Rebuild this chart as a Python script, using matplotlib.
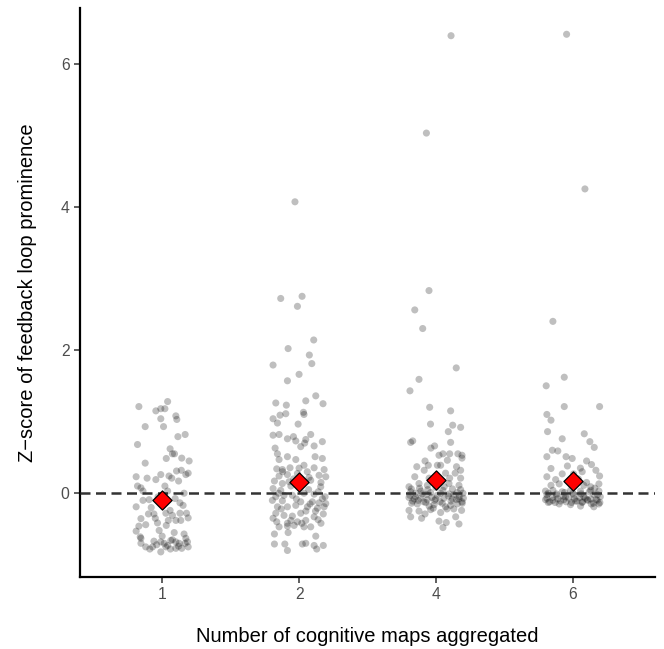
import numpy as np
import matplotlib
matplotlib.use("Agg")
import matplotlib.pyplot as plt

plt.rcParams['font.family'] = ['Liberation Sans', 'DejaVu Sans']

# categories on the x axis
groups = ["1", "2", "4", "6"]

# jitter offset (category units) and z-score of every point
g1_dx = [-0.17, 0.04, -0.046, -0.01, 0.02, -0.01, 0.10, 0.107, -0.124, 0.01, 0.115, 0.168, -0.18, 0.058,
         0.075, 0.09, 0.03, 0.143, 0.197, -0.124, -0.01, 0.105, 0.14, 0.173, -0.19, -0.046, 0.05, 0.07,
         0.02, -0.18, -0.155, -0.14, 0.04, -0.14, -0.095, 0.095, 0.13, -0.19, 0.153, -0.10, -0.06, 0.027,
         0.058, 0.075, 0.13, 0.178, -0.155, -0.034, 0.045, 0.10, 0.136, 0.19, -0.17, -0.12, -0.19, -0.022,
         0.088, -0.16, -0.155, 0.075, 0.16, 0.173, -0.06, -0.01, 0.015, 0.04, 0.063, 0.10, 0.124, 0.168,
         0.185, -0.07, -0.01, 0.027, 0.10, 0.143, -0.155, -0.12, -0.09, 0.06, 0.12, 0.19, -0.04, 0.0,
         -0.08, -0.03, 0.16, -0.11, 0.12, 0.19, -0.05, 0.03]
g1_y = [1.21, 1.28, 1.15, 1.18, 1.18, 1.04, 1.08, 1.03, 0.93, 0.93, 0.79, 0.82, 0.68, 0.62,
        0.55, 0.55, 0.485, 0.49, 0.45, 0.42, 0.26, 0.31, 0.32, 0.26, 0.23, 0.19, 0.24, 0.21,
        0.10, 0.10, 0.075, 0.03, 0.03, -0.10, -0.09, -0.075, -0.135, -0.19, -0.17, -0.29, -0.29, -0.28,
        -0.24, -0.31, -0.28, -0.28, -0.355, -0.415, -0.38, -0.38, -0.38, -0.345, -0.46, -0.44, -0.53, -0.52,
        -0.55, -0.61, -0.63, -0.65, -0.57, -0.63, -0.67, -0.68, -0.70, -0.73, -0.66, -0.68, -0.70, -0.70,
        -0.68, -0.75, -0.82, -0.75, -0.77, -0.77, -0.70, -0.75, -0.78, -0.78, -0.74, -0.75, -0.72, -0.60,
        -0.20, -0.05, 0.0, 0.21, 0.17, 0.28, -0.35, -0.45]

g2_dx = [-0.03, -0.134, 0.022, -0.012, 0.107, -0.08, 0.075, -0.19, 0.093,
         0.0, -0.085, 0.122, 0.049, 0.175, -0.17, -0.093, -0.097, -0.139, -0.19, 0.032, 0.036, -0.158,
         -0.007, -0.19, -0.146, -0.085, -0.041, 0.085, 0.049, -0.024, 0.041, 0.17, -0.175, 0.012, 0.11,
         -0.158, -0.146, -0.085, -0.024, 0.117, 0.17, -0.163, -0.122, -0.066, 0.036, 0.11, 0.183, -0.146,
         -0.085, -0.012, 0.073, 0.146, 0.195, -0.18, -0.122, -0.073, 0.085, -0.19, -0.134, 0.158, -0.17,
         -0.11, -0.049, 0.036, 0.11, 0.17, -0.195, -0.122, 0.012, 0.097, 0.146, 0.195, -0.158, -0.085,
         -0.024, 0.061, 0.134, 0.183, -0.17, -0.11, -0.049, 0.012, 0.11, 0.177, -0.163, -0.085, -0.012,
         0.049, 0.139, -0.146, -0.085, -0.036, 0.036, 0.085, -0.18, 0.122, -0.18, -0.104, -0.085, 0.024,
         0.049, 0.11, 0.129, 0.177, -0.15, -0.06, 0.07, 0.14, -0.13, -0.02, 0.05, 0.12, 0.19, -0.19,
         -0.06, 0.02, 0.16, -0.12, 0.0, 0.06, 0.16, -0.08, 0.08, -0.04]
g2_y = [4.07, 2.72, 2.75, 2.61, 2.14, 2.02, 1.93, 1.79, 1.81,
        1.66, 1.57, 1.36, 1.29, 1.25, 1.26, 1.23, 1.11, 1.09, 1.04, 1.13, 1.10, 0.98,
        0.965, 0.81, 0.82, 0.76, 0.79, 0.82, 0.75, 0.73, 0.70, 0.72, 0.63, 0.65, 0.66,
        0.55, 0.47, 0.51, 0.47, 0.51, 0.485, 0.34, 0.33, 0.355, 0.39, 0.355, 0.33, 0.24,
        0.26, 0.275, 0.22, 0.25, 0.23, 0.17, 0.135, 0.16, 0.18, 0.065, 0.04, 0.09, -0.05,
        -0.03, -0.03, 0.0, -0.014, -0.075, -0.10, -0.107, -0.12, -0.12, -0.135, -0.145, -0.19, -0.19,
        -0.17, -0.19, -0.21, -0.19, -0.28, -0.31, -0.32, -0.28, -0.33, -0.29, -0.40, -0.42, -0.40,
        -0.38, -0.37, -0.47, -0.46, -0.45, -0.47, -0.47, -0.57, -0.60, -0.71, -0.71, -0.80, -0.71,
        -0.70, -0.73, -0.78, -0.73, 0.0, 0.10, 0.05, 0.02, -0.22, -0.08, -0.25, -0.25, -0.05, -0.35,
        -0.38, -0.42, -0.42, 0.30, 0.35, 0.30, 0.15, -0.55, -0.15, 0.20]

g4_dx = [0.11, -0.07, -0.051, -0.155, -0.097, 0.148, -0.124, -0.19, -0.046, 0.107, -0.04, 0.122,
         0.18, 0.09, -0.185, -0.17, 0.107, -0.037, -0.01, 0.022, 0.051, 0.10, 0.16, 0.19, -0.08,
         0.083, 0.19, -0.14, -0.056, 0.01, 0.034, 0.15, -0.086, 0.07, 0.14, 0.18, -0.155, -0.05,
         0.10, 0.18, -0.197, -0.124, -0.063, 0.095, 0.168,
         -0.185, -0.148, -0.10, -0.039, 0.034, 0.095, 0.156, 0.197,
         -0.197, -0.16, -0.112, -0.063, -0.002, 0.058, 0.12, 0.168, 0.2,
         -0.178, -0.136, -0.075, -0.014, 0.046, 0.107, 0.156, 0.192,
         -0.197, -0.124, -0.039, 0.034, 0.13, 0.187,
         -0.185, -0.105, 0.022, 0.075, 0.144, 0.168, 0.051,
         -0.19, -0.15, -0.11, -0.07, -0.03, 0.01, 0.05, 0.09, 0.13, 0.17,
         -0.17, -0.13, -0.09, -0.05, -0.01, 0.03, 0.07, 0.11, 0.15, 0.19,
         -0.18, -0.12, -0.06, 0.0, 0.06, 0.12, 0.18, -0.02, 0.08, -0.08]
g4_y = [6.39, 5.03, 2.83, 2.56, 2.30, 1.75, 1.59, 1.43, 1.20, 1.15, 0.965, 0.95,
        0.92, 0.86, 0.71, 0.73, 0.71, 0.63, 0.66, 0.53, 0.55, 0.55, 0.55, 0.53, 0.45,
        0.46, 0.49, 0.37, 0.39, 0.39, 0.39, 0.37, 0.32, 0.28, 0.28, 0.32, 0.23, 0.21,
        0.21, 0.21, 0.09, 0.135, 0.11, 0.135, 0.11,
        0.02, 0.0, -0.01, 0.01, 0.0, -0.01, 0.01, 0.0,
        -0.06, -0.08, -0.07, -0.09, -0.08, -0.07, -0.08, -0.08, -0.07,
        -0.14, -0.15, -0.13, -0.16, -0.14, -0.17, -0.15, -0.14,
        -0.24, -0.25, -0.23, -0.27, -0.22, -0.24,
        -0.33, -0.35, -0.39, -0.41, -0.33, -0.43, -0.48,
        -0.03, -0.05, 0.03, -0.02, -0.06, -0.03, 0.04, -0.04, -0.02, -0.05,
        -0.11, -0.10, -0.12, -0.18, -0.10, -0.12, -0.19, -0.11, -0.09, -0.12,
        0.06, 0.07, 0.05, 0.08, 0.09, 0.06, 0.05, -0.21, -0.22, -0.29]

g6_dx = [-0.046, 0.088, -0.146, -0.063, -0.195, -0.063, 0.195, -0.19, -0.16, -0.185, -0.078, 0.083,
         0.124, 0.156, -0.15, -0.11, -0.19, -0.05, -0.005, 0.10, -0.16, -0.04, 0.055, 0.136, 0.168,
         -0.19, -0.126, -0.078, 0.005, 0.068, 0.195, -0.16, -0.10, 0.08, 0.13, 0.19,
         -0.2, -0.146, -0.078, -0.017, 0.056, 0.13, 0.19,
         -0.19, -0.12, -0.054, 0.007, 0.08, 0.153, 0.2,
         -0.2, -0.146, -0.066, 0.02, 0.105, 0.178,
         -0.18, -0.10, -0.017, 0.068, 0.134, 0.197,
         0.056, 0.153,
         -0.19, -0.15, -0.11, -0.07, -0.03, 0.01, 0.05, 0.09, 0.13, 0.17,
         -0.17, -0.13, -0.09, -0.05, -0.01, 0.03, 0.07, 0.11, 0.15, 0.19,
         -0.18, -0.12, -0.06, 0.0, 0.06, 0.12, 0.18, 0.10, 0.16, 0.04]
g6_y = [6.41, 4.25, 2.40, 1.62, 1.50, 1.21, 1.21, 1.10, 1.02, 0.86, 0.76, 0.83,
        0.72, 0.64, 0.60, 0.59, 0.51, 0.51, 0.485, 0.45, 0.345, 0.38, 0.35, 0.40, 0.32,
        0.23, 0.19, 0.27, 0.27, 0.30, 0.24, 0.11, 0.13, 0.11, 0.09, 0.13,
        0.03, 0.04, 0.02, 0.04, 0.03, 0.04, 0.03,
        -0.02, -0.03, -0.05, -0.02, -0.05, -0.02, -0.05,
        -0.09, -0.10, -0.09, -0.11, -0.09, -0.10,
        -0.13, -0.15, -0.16, -0.13, -0.15, -0.13,
        -0.18, -0.19,
        -0.07, -0.06, -0.08, -0.04, -0.07, -0.08, -0.06, -0.07, -0.08, -0.09,
        -0.12, -0.13, -0.11, -0.12, -0.13, -0.11, -0.12, -0.10, -0.14, -0.15,
        0.0, -0.01, 0.01, 0.0, -0.01, 0.02, -0.02, 0.15, 0.07, 0.20]

# group means (red diamonds)
means = [-0.10, 0.15, 0.19, 0.17]

fig = plt.figure(figsize=(6.64, 6.49), dpi=100)
ax = fig.add_axes([0.1205, 0.111, 0.866, 0.877])

all_dx = [g1_dx, g2_dx, g4_dx, g6_dx]
all_y = [g1_y, g2_y, g4_y, g6_y]
for i in range(len(groups)):
    x = i + 1 + np.array(all_dx[i])
    ax.scatter(x, all_y[i], s=26, color='black', alpha=0.25, edgecolors='none', zorder=2)

ax.axhline(0, color='#333333', linestyle=(0, (4, 2.2)), linewidth=1.8, zorder=3)

ax.scatter(np.arange(1, 5), means, marker='D', s=95, color='#FF0000', edgecolors='black',
           linewidths=0.9, zorder=4)

ax.set_xlim(0.4, 4.6)
ax.set_ylim(-1.17, 6.78)
ax.set_xticks(np.arange(1, 5))
ax.set_xticklabels(groups)
ax.set_yticks([0, 2, 4, 6])

for side in ['top', 'right']:
    ax.spines[side].set_visible(False)
for side in ['left', 'bottom']:
    ax.spines[side].set_linewidth(1.6)
ax.tick_params(axis='both', colors='#333333', labelcolor='#4D4D4D', labelsize=11.3, length=4, width=1.1)

ax.set_xlabel("Number of cognitive maps aggregated", fontsize=14.5, labelpad=18)
ax.set_ylabel("Z\u2212score of feedback loop prominence", fontsize=14.5, labelpad=17)

fig.savefig("out.png", dpi=100)
